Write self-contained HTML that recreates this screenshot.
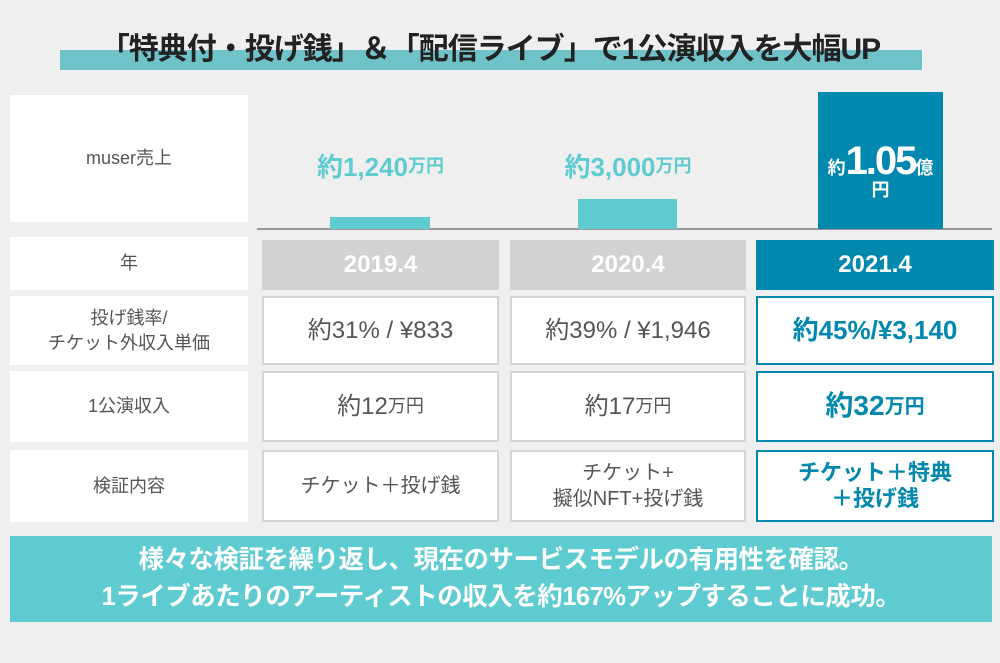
<!DOCTYPE html><html><head><meta charset="utf-8"><style>
*{margin:0;padding:0;box-sizing:border-box}
body{width:1000px;height:663px;background:#efefef;font-family:"Liberation Sans","Noto Sans CJK JP",sans-serif;position:relative;overflow:hidden;color:#444}
.a{position:absolute;display:flex;align-items:center;justify-content:center;text-align:center}
.l{background:#fff;font-size:18px;color:#555;line-height:1.35}
.c{background:#fff;border:2px solid #d4d4d4;font-size:24px;color:#555;line-height:1.3}
.h{border-color:#0088ae;color:#0088ae;font-weight:bold}
.y{background:#d2d2d2;color:#fff;font-weight:bold;font-size:24px}
</style></head><body>
<div style="position:absolute;left:60px;top:50px;width:862px;height:20px;background:#6fc2c8"></div>
<div class="a" style="left:40px;top:24px;width:900px;height:44px;font-size:30px;font-weight:bold;color:#222;letter-spacing:-1px">「特典付・投げ銭」＆「配信ライブ」で1公演収入を大幅UP</div>

<div class="a l" style="left:10px;top:95px;width:238px;height:127px">muser売上</div>
<div style="position:absolute;left:257px;top:228px;width:735px;height:2px;background:#999"></div>
<div style="position:absolute;left:330px;top:217px;width:100px;height:12px;background:#5ecbd1"></div>
<div style="position:absolute;left:578px;top:199px;width:99px;height:30px;background:#5ecbd1"></div>
<div style="position:absolute;left:818px;top:92px;width:125px;height:137px;background:#0088ae"></div>
<div class="a" style="left:262px;top:145px;width:237px;height:40px;color:#5ecbd1;font-weight:bold;font-size:26px">約1,240<span style="font-size:18px">万円</span></div>
<div class="a" style="left:510px;top:145px;width:236px;height:40px;color:#5ecbd1;font-weight:bold;font-size:26px">約3,000<span style="font-size:18px">万円</span></div>
<div class="a" style="left:818px;top:135px;width:125px;height:70px;color:#fff;font-weight:bold;line-height:1;flex-direction:column"><div><span style="font-size:18px">約</span><span style="font-size:40px;letter-spacing:-2px">1.05</span><span style="font-size:18px">億</span></div><div style="font-size:18px">円</div></div>

<div class="a l" style="left:10px;top:237px;width:238px;height:53px">年</div>
<div class="a y" style="left:262px;top:240px;width:237px;height:50px">2019.4</div>
<div class="a y" style="left:510px;top:240px;width:236px;height:50px">2020.4</div>
<div class="a y" style="left:756px;top:240px;width:238px;height:50px;background:#0088ae">2021.4</div>

<div class="a l" style="left:10px;top:296px;width:238px;height:69px">投げ銭率/<br>チケット外収入単価</div>
<div class="a c" style="left:262px;top:296px;width:237px;height:69px">約31% / ¥833</div>
<div class="a c" style="left:510px;top:296px;width:236px;height:69px">約39% / ¥1,946</div>
<div class="a c h" style="left:756px;top:296px;width:238px;height:69px;font-size:26px">約45%/¥3,140</div>

<div class="a l" style="left:10px;top:371px;width:238px;height:71px">1公演収入</div>
<div class="a c" style="left:262px;top:371px;width:237px;height:71px">約12<span style="font-size:18px">万円</span></div>
<div class="a c" style="left:510px;top:371px;width:236px;height:71px">約17<span style="font-size:18px">万円</span></div>
<div class="a c h" style="left:756px;top:371px;width:238px;height:71px;font-size:28px">約32<span style="font-size:20px">万円</span></div>

<div class="a l" style="left:10px;top:450px;width:238px;height:72px">検証内容</div>
<div class="a c" style="left:262px;top:450px;width:237px;height:72px;font-size:20px">チケット＋投げ銭</div>
<div class="a c" style="left:510px;top:450px;width:236px;height:72px;font-size:20px">チケット+<br>擬似NFT+投げ銭</div>
<div class="a c h" style="left:756px;top:450px;width:238px;height:72px;font-size:22px;line-height:1.2">チケット＋特典<br>＋投げ銭</div>

<div class="a" style="left:10px;top:536px;width:982px;height:86px;background:#5ecbd1;color:#fff;font-weight:bold;font-size:25.5px;line-height:1.45;letter-spacing:-0.5px">様々な検証を繰り返し、現在のサービスモデルの有用性を確認。<br>1ライブあたりのアーティストの収入を約167%アップすることに成功。</div>
</body></html>
